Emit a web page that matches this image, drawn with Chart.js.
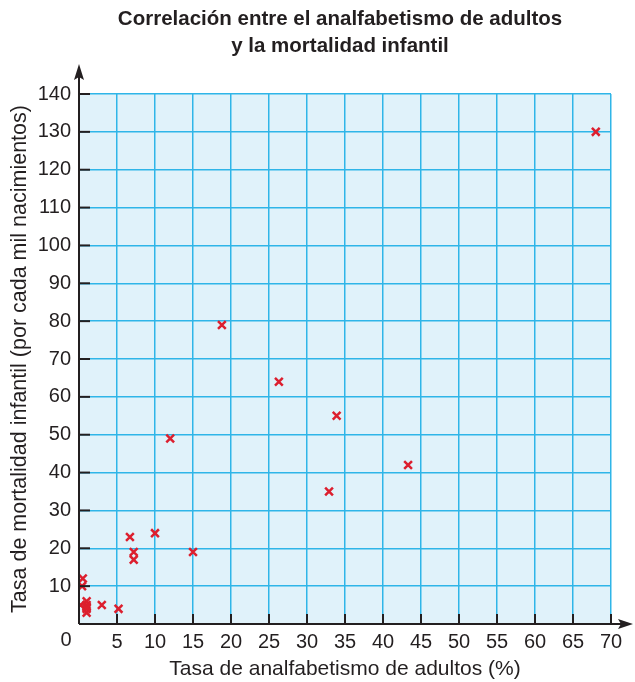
<!DOCTYPE html>
<html>
<head>
<meta charset="utf-8">
<script src="https://cdn.jsdelivr.net/npm/chart.js@4.4.1/dist/chart.umd.min.js"></script>
<style>
  html, body { margin: 0; padding: 0; background: #fff; }
</style>
</head>
<body>
<canvas id="scatterChart" width="635" height="682"></canvas>
<script>
// illiteracy rate of adults (%)
const illiteracy = [68, 18.8, 26.3, 33.9, 43.3, 32.9, 12.0, 10.0, 6.7, 7.2, 7.2, 15.0, 5.2, 3.0, 0.5, 0.4, 0.2, 1.0, 1.0, 1.0, 1.0, 1.0];
// infant mortality (per thousand births)
const mortality = [130, 79, 64, 55, 42, 35, 49, 24, 23, 19, 17, 19, 4, 5, 12, 10, 5, 6, 5, 4.5, 4, 3];

const xTicks = [0, 5, 10, 15, 20, 25, 30, 35, 40, 45, 50, 55, 60, 65, 70];
const yTicks = [10, 20, 30, 40, 50, 60, 70, 80, 90, 100, 110, 120, 130, 140];

const titleLines = ['Correlación entre el analfabetismo de adultos', 'y la mortalidad infantil'];
const xTitle = 'Tasa de analfabetismo de adultos (%)';
const yTitle = 'Tasa de mortalidad infantil (por cada mil nacimientos)';

const points = illiteracy.map((x, i) => ({ x: x, y: mortality[i] }));

const fontFamily = '"Liberation Sans", Arial, Helvetica, sans-serif';

// background, axes with arrows, tick marks and the title
const decor = {
    id: 'decor',
    beforeDraw(chart) {
        const { ctx, chartArea: a } = chart;
        ctx.save();
        ctx.fillStyle = '#e0f2fa';
        ctx.fillRect(a.left, a.top, a.right - a.left, a.bottom - a.top);
        ctx.restore();
    },
    afterDraw(chart) {
        const { ctx, chartArea: a, scales } = chart;
        ctx.save();
        ctx.strokeStyle = '#231f20';
        ctx.fillStyle = '#231f20';
        ctx.lineWidth = 2;

        // tick marks, inside the plot
        xTicks.forEach(v => {
            if (v === 0) return;
            const px = scales.x.getPixelForValue(v);
            ctx.beginPath();
            ctx.moveTo(px, a.bottom);
            ctx.lineTo(px, a.bottom - 10);
            ctx.stroke();
        });
        yTicks.forEach(v => {
            const py = scales.y.getPixelForValue(v);
            ctx.beginPath();
            ctx.moveTo(a.left, py);
            ctx.lineTo(a.left + 11, py);
            ctx.stroke();
        });

        // axis lines
        ctx.beginPath();
        ctx.moveTo(a.left, a.bottom);
        ctx.lineTo(a.left, a.top - 18);
        ctx.moveTo(a.left, a.bottom);
        ctx.lineTo(a.right + 14, a.bottom);
        ctx.stroke();

        // arrow heads
        ctx.beginPath();
        ctx.moveTo(a.left, a.top - 30);
        ctx.lineTo(a.left - 5, a.top - 14);
        ctx.lineTo(a.left, a.top - 17);
        ctx.lineTo(a.left + 5, a.top - 14);
        ctx.closePath();
        ctx.fill();
        ctx.beginPath();
        ctx.moveTo(a.right + 22, a.bottom);
        ctx.lineTo(a.right + 7, a.bottom - 5);
        ctx.lineTo(a.right + 10, a.bottom);
        ctx.lineTo(a.right + 7, a.bottom + 5);
        ctx.closePath();
        ctx.fill();

        // origin label, set left of the y axis
        ctx.font = '20px ' + fontFamily;
        ctx.textAlign = 'center';
        ctx.textBaseline = 'top';
        ctx.fillText(String(xTicks[0]), a.left - 13, a.bottom + 6);

        // title
        ctx.font = 'bold 20.5px ' + fontFamily;
        ctx.textBaseline = 'middle';
        ctx.fillText(titleLines[0], 340, 19);
        ctx.fillText(titleLines[1], 340, 46);
        ctx.restore();
    }
};

const ctx = document.getElementById('scatterChart').getContext('2d');
new Chart(ctx, {
    type: 'scatter',
    data: {
        datasets: [{
            label: 'Países',
            data: points,
            pointStyle: 'crossRot',
            pointRadius: 5.5,
            pointBorderWidth: 2.5,
            borderColor: '#dc1f2e',
            backgroundColor: '#dc1f2e'
        }]
    },
    options: {
        responsive: false,
        animation: false,
        layout: { padding: { top: 94, right: 24, left: 0, bottom: 0 } },
        plugins: {
            legend: { display: false },
            tooltip: { enabled: false }
        },
        scales: {
            x: {
                type: 'linear',
                min: 0,
                max: 70,
                afterFit(scale) { scale.height = 58; },
                afterBuildTicks(scale) { scale.ticks = xTicks.map(v => ({ value: v })); },
                ticks: {
                    color: '#231f20',
                    font: { family: fontFamily, size: 20 },
                    padding: 6,
                    callback: v => (v === 0 ? '' : v)
                },
                grid: { color: '#2fb5e8', lineWidth: 1.5, drawTicks: false },
                border: { display: false },
                title: {
                    display: true,
                    text: xTitle,
                    color: '#231f20',
                    font: { family: fontFamily, size: 21 },
                    padding: { top: 0, bottom: 0 }
                }
            },
            y: {
                type: 'linear',
                min: 0,
                max: 140,
                afterFit(scale) { scale.width = 79; },
                afterBuildTicks(scale) { scale.ticks = [0].concat(yTicks).map(v => ({ value: v })); },
                ticks: {
                    color: '#231f20',
                    font: { family: fontFamily, size: 20 },
                    padding: 8,
                    callback: v => (v === 0 ? '' : v)
                },
                grid: { color: '#2fb5e8', lineWidth: 1.5, drawTicks: false },
                border: { display: false },
                title: {
                    display: true,
                    text: yTitle,
                    color: '#231f20',
                    font: { family: fontFamily, size: 21.5 },
                    padding: { top: 7, bottom: 0 }
                }
            }
        }
    },
    plugins: [decor]
});
</script>
</body>
</html>
